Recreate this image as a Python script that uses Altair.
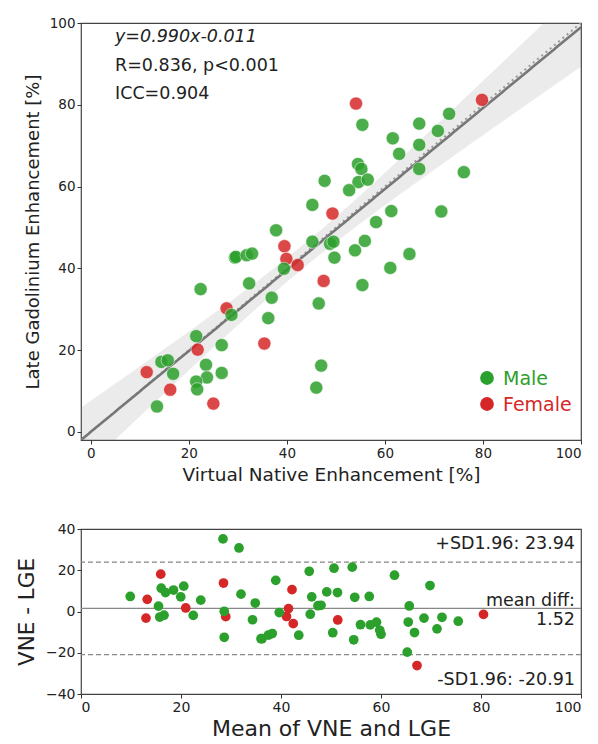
import altair as alt
import numpy as np
import pandas as pd

# ---------------- data ----------------
vne = [54.1, 79.8, 49.3, 39.5, 39.9, 42.2, 47.5, 35.4, 27.7, 21.8, 11.4, 16.2, 25.0,
       73.1, 55.4, 67.0, 61.6, 70.8, 67.0, 62.9, 54.5, 55.2, 47.7, 54.6, 56.5, 52.7,
       67.0, 76.1, 45.2, 58.2, 61.3, 71.5, 37.8, 45.2, 48.8, 49.5, 53.9, 49.7, 65.0,
       61.1, 39.4, 55.4, 36.9, 46.5, 36.2, 47.0, 46.0, 29.4, 29.6, 31.8, 32.9, 32.3,
       22.4, 28.7, 21.5, 26.7, 14.4, 15.7, 16.8, 23.5, 23.7, 26.7, 21.5, 21.7, 13.5,
       55.9]
lge = [80.3, 81.2, 53.4, 45.4, 42.3, 40.8, 36.9, 21.6, 30.2, 20.1, 14.6, 10.3, 6.9,
       77.8, 75.1, 75.4, 71.8, 73.6, 70.2, 68.0, 65.5, 64.3, 61.4, 61.1, 61.7, 59.1,
       64.3, 63.5, 55.5, 51.3, 54.0, 53.9, 49.3, 46.5, 46.0, 46.5, 44.4, 42.6, 43.5,
       40.1, 39.9, 35.9, 32.8, 31.4, 27.8, 16.2, 10.8, 42.6, 42.8, 43.2, 43.6, 36.3,
       34.9, 28.6, 23.4, 21.2, 17.1, 17.5, 14.2, 16.4, 13.3, 14.4, 12.3, 10.4, 6.2,
       46.7]
sex = ["Female"] * 13 + ["Male"] * 53

categories = ["Male", "Female"]
colors = ["#2ca02c", "#d62728"]

SLOPE = 0.990
INTERCEPT = -0.011
R_VAL = 0.836
ICC_VAL = 0.904
MEAN_DIFF = 1.52
SD_UPPER = 23.94
SD_LOWER = -20.91

ticks_top = [0, 20, 40, 60, 80, 100]
ticks_bx = [0, 20, 40, 60, 80, 100]
ticks_by = [-40, -20, 0, 20, 40]

FONT = "DejaVu Sans"
TXT = "#222222"

df = pd.DataFrame({"vne": vne, "lge": lge, "sex": sex})

# ---------- regression line + 95% confidence band (from the data) ----------
xa = np.array(vne)
ya = np.array(lge)
n = len(xa)
res = ya - (SLOPE * xa + INTERCEPT)
s = np.sqrt((res ** 2).sum() / (n - 2))
xbar = xa.mean()
sxx = ((xa - xbar) ** 2).sum()
t_crit = 1.998
grid = np.linspace(-2, 100, 205)
fit = SLOPE * grid + INTERCEPT
half = t_crit * s * np.sqrt(1.0 / n + (grid - xbar) ** 2 / sxx)
band = pd.DataFrame({"x": grid, "fit": fit, "lo": fit - half, "hi": fit + half, "ident": grid})

xs = alt.Scale(domain=[-2, 100], nice=False, zero=False)
ys = alt.Scale(domain=[-2, 100], nice=False, zero=False)

x_axis = alt.Axis(values=ticks_top, title="Virtual Native Enhancement [%]", titleFontSize=18.5,
                  labelFontSize=13.5, tickSize=4, labelPadding=2, titlePadding=6)
y_axis = alt.Axis(values=ticks_top, title="Late Gadolinium Enhancement [%]", titleFontSize=18,
                  labelFontSize=13.5, tickSize=4, labelPadding=2, titlePadding=7)

base_band = alt.Chart(band)
area = base_band.mark_area(color="#808080", opacity=0.16, clip=True).encode(
    x=alt.X("x:Q", scale=xs, axis=x_axis),
    y=alt.Y("lo:Q", scale=ys, axis=y_axis),
    y2="hi:Q",
)
ident = base_band.mark_line(color="#999999", strokeDash=[2, 3.5], strokeWidth=2, clip=True).encode(
    x=alt.X("x:Q", scale=xs), y=alt.Y("ident:Q", scale=ys)
)
fitline = base_band.mark_line(color="#777777", strokeWidth=2.6, clip=True).encode(
    x=alt.X("x:Q", scale=xs), y=alt.Y("fit:Q", scale=ys)
)
pts = alt.Chart(df).mark_circle(size=175, opacity=0.85, stroke="white", strokeWidth=0.6).encode(
    x=alt.X("vne:Q", scale=xs),
    y=alt.Y("lge:Q", scale=ys),
    color=alt.Color("sex:N", scale=alt.Scale(domain=categories, range=colors), legend=None),
)

ann_lines = [
    (f"y={SLOPE:.3f}x{INTERCEPT:+.3f}", "italic", 14),
    (f"R={R_VAL:.3f}, p<0.001", "normal", 43),
    (f"ICC={ICC_VAL:.3f}", "normal", 71),
]
ann_layers = []
for txt, style, ypix in ann_lines:
    ann_layers.append(
        alt.Chart(pd.DataFrame({"t": [txt]})).mark_text(
            align="left", baseline="middle", font=FONT, fontSize=17.5, fontStyle=style, color=TXT
        ).encode(x=alt.value(34), y=alt.value(ypix), text="t:N")
    )

leg_layers = []
for i, (cat, col) in enumerate(zip(categories, colors)):
    ypix = 355 + i * 26
    leg_df = pd.DataFrame({"t": [cat]})
    leg_layers.append(
        alt.Chart(leg_df).mark_circle(size=190, opacity=1, color=col).encode(
            x=alt.value(406), y=alt.value(ypix)
        )
    )
    leg_layers.append(
        alt.Chart(leg_df).mark_text(align="left", baseline="middle", font=FONT, fontSize=19, color=col).encode(
            x=alt.value(422), y=alt.value(ypix + 1), text="t:N"
        )
    )

top = alt.layer(area, ident, fitline, pts, *ann_layers, *leg_layers).properties(width=500, height=417)

# ---------------- Bland-Altman ----------------
bxs = alt.Scale(domain=[0, 100], nice=False, zero=False)
bys = alt.Scale(domain=[-40, 40], nice=False, zero=False)

ba_pts = alt.Chart(df).transform_calculate(
    mean="(datum.vne + datum.lge) / 2", diff="datum.vne - datum.lge"
).mark_circle(size=95, opacity=1).encode(
    x=alt.X("mean:Q", scale=bxs, axis=alt.Axis(values=ticks_bx, title="Mean of VNE and LGE", titleFontSize=22,
                                               labelFontSize=14, tickSize=4, labelPadding=2, titlePadding=4)),
    y=alt.Y("diff:Q", scale=bys, axis=alt.Axis(values=ticks_by, title="VNE - LGE", titleFontSize=21.5,
                                               labelFontSize=14, tickSize=4, labelPadding=2, titlePadding=7)),
    color=alt.Color("sex:N", scale=alt.Scale(domain=categories, range=colors), legend=None),
)

lim_df = pd.DataFrame({"v": [SD_UPPER, SD_LOWER]})
lims = alt.Chart(lim_df).mark_rule(color="#888888", strokeDash=[5, 3], strokeWidth=1.2).encode(
    y=alt.Y("v:Q", scale=bys)
)
mean_rule = alt.Chart(pd.DataFrame({"v": [MEAN_DIFF]})).mark_rule(color="#888888", strokeWidth=1.3).encode(
    y=alt.Y("v:Q", scale=bys)
)

ba_text = [
    (f"+SD1.96: {SD_UPPER:.2f}", 15),
    ("mean diff:", 72),
    (f"{MEAN_DIFF:.2f}", 91),
    (f"-SD1.96: {SD_LOWER:.2f}", 151),
]
ba_text_layers = []
for txt, ypix in ba_text:
    ba_text_layers.append(
        alt.Chart(pd.DataFrame({"t": [txt]})).mark_text(
            align="right", baseline="middle", font=FONT, fontSize=17.5, color=TXT
        ).encode(x=alt.value(494), y=alt.value(ypix), text="t:N")
    )

bottom = alt.layer(lims, mean_rule, ba_pts, *ba_text_layers).properties(width=500, height=165)

chart = alt.vconcat(top, bottom, spacing=36).properties(
    padding={"left": 7, "top": 7, "right": 0, "bottom": 0}
).configure_axis(
    labelFont=FONT, titleFont=FONT, labelColor=TXT, titleColor=TXT, tickColor="#333333",
    domain=False, grid=False, titleFontWeight="normal",
).configure_view(stroke="#444444", strokeWidth=1.2)

chart.save("out.html", embed_options={"renderer": "svg", "actions": False})
